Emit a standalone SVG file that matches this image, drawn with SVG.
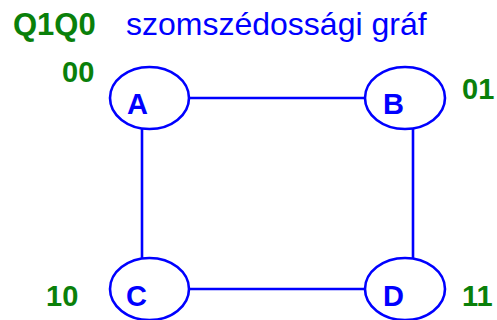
<svg xmlns="http://www.w3.org/2000/svg" width="497" height="320" viewBox="0 0 497 320">
  <style>
    .node { fill: #ffffff; stroke: #0000ff; stroke-width: 2.6; }
    .edge { stroke: #0000ff; stroke-width: 2.6; fill: none; }
    .lbl { font-family: "Liberation Sans", Arial, sans-serif; font-weight: bold; font-size: 29px; fill: #0000ff; }
    .code { font-family: "Liberation Sans", Arial, sans-serif; font-weight: bold; font-size: 29px; fill: #0a800a; }
    .title { font-family: "Liberation Sans", Arial, sans-serif; font-size: 32px; fill: #0000ff; }
  </style>
  <rect width="497" height="320" fill="#ffffff"/>
  <text class="code" x="13" y="35" style="font-size:31px">Q1Q0</text>
  <text class="title" x="126" y="35">szomszédossági gráf</text>

  <g id="connectors">
    <line class="edge" x1="189" y1="98" x2="365" y2="98"/>
    <line class="edge" x1="189" y1="289" x2="365" y2="289"/>
    <line class="edge" x1="142" y1="128" x2="142" y2="259"/>
    <line class="edge" x1="413" y1="128" x2="413" y2="259"/>
  </g>

  <g id="node-A">
    <ellipse class="node" cx="149.5" cy="98" rx="39.5" ry="31"/>
    <text class="lbl" x="127" y="114">A</text>
    <text class="code" x="62" y="82">00</text>
  </g>
  <g id="node-B">
    <ellipse class="node" cx="405" cy="98" rx="40" ry="31"/>
    <text class="lbl" x="383" y="114">B</text>
    <text class="code" x="462" y="99">01</text>
  </g>
  <g id="node-C">
    <ellipse class="node" cx="149.5" cy="289" rx="39.5" ry="31"/>
    <text class="lbl" x="126" y="306">C</text>
    <text class="code" x="46" y="306">10</text>
  </g>
  <g id="node-D">
    <ellipse class="node" cx="405" cy="289" rx="40" ry="31"/>
    <text class="lbl" x="383" y="306">D</text>
    <text class="code" x="462" y="306">11</text>
  </g>
</svg>
